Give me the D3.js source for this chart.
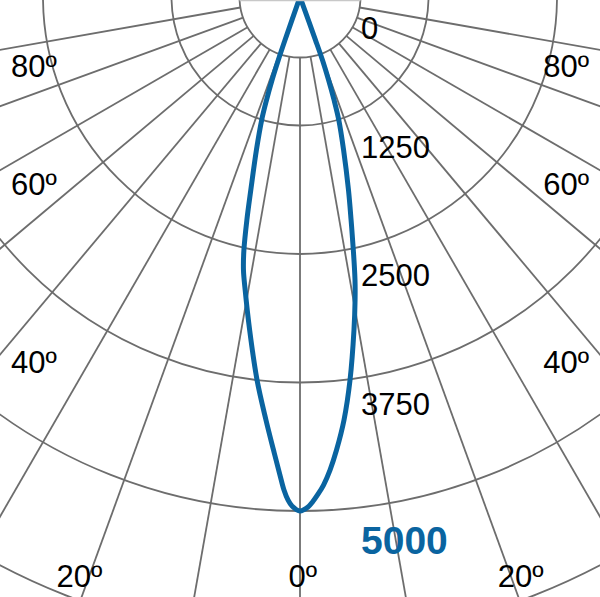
<!DOCTYPE html>
<html>
<head>
<meta charset="utf-8">
<script src="https://cdn.jsdelivr.net/npm/d3@7"></script>
<style>
  html, body { margin: 0; padding: 0; background: #fff; }
  svg { display: block; }
</style>
</head>
<body>
<svg id="chart" width="600" height="597"></svg>
<script>
// ---- data ----
const ringValues = [1250, 2500, 3750, 5000, 6250, 7500];
const valueLabels = ["0", "1250", "2500", "3750", "5000"];
const valueLabelValues = [0, 1250, 2500, 3750, 5000];
const gridAngles = [-90, -80, -70, -60, -50, -40, -30, -20, -10, 0, 10, 20, 30, 40, 50, 60, 70, 80, 90];
const angleLabels = ["80º", "60º", "40º", "20º", "0º", "20º", "40º", "60º", "80º"];
const angleLabelAngles = [-80, -60, -40, -20, 0, 20, 40, 60, 80];
// intensity curve (cd) — negative angle = left half, positive = right half
const curveAngles = [-19.5, -19.2, -19.0, -18.6, -18.0, -17.3, -15.9, -14.3, -13.4, -12.5, -11.7, -10.6, -8.6, -6.4, -4.6, -3.35, -2.4, -1.86, -1.37, -0.9, 0,
                     0.9, 1.42, 2.01, 2.76, 3.63, 4.61, 5.94, 7.44, 9.21, 10.3, 11.0, 11.9, 12.9, 14.1, 15.9, 17.5, 18.3, 19.0, 19.6, 19.8, 20.0];
const curveValues = [0, 443, 648, 852, 1054, 1253, 1547, 1937, 2230, 2521, 2712, 2900, 3276, 3749, 4128, 4414, 4654, 4798, 4894, 4952, 5000,
                     4962, 4914, 4847, 4753, 4611, 4421, 4137, 3758, 3281, 2996, 2804, 2516, 2226, 1936, 1547, 1255, 1055, 854, 651, 445, 0];

// ---- layout ----
const W = 600, H = 597;
const cx = 300, cy = -3;
const innerR = 60.5;
const gridColor = "#6d6d6d";
const blue = "#0a64a0";
const font = "'Liberation Sans', Arial, Helvetica, sans-serif";

const r = d3.scaleLinear().domain([0, 5000]).range([0, 514]);
const toRad = a => Math.PI - a * Math.PI / 180; // 0° points down

const svg = d3.select("#chart");
const g = svg.append("g").attr("transform", `translate(${cx},${cy})`);

// rings
g.selectAll("circle.ring").data(ringValues).join("circle")
  .attr("class", "ring")
  .attr("r", d => r(d))
  .attr("fill", "none")
  .attr("stroke", gridColor)
  .attr("stroke-width", 1.8);

// radial lines
const farR = 900;
g.selectAll("line.spoke").data(gridAngles).join("line")
  .attr("class", "spoke")
  .attr("x1", d => innerR * Math.sin(toRad(d)))
  .attr("y1", d => -innerR * Math.cos(toRad(d)))
  .attr("x2", d => farR * Math.sin(toRad(d)))
  .attr("y2", d => -farR * Math.cos(toRad(d)))
  .attr("stroke", gridColor)
  .attr("stroke-width", 1.8);

// inner semicircle
const semi = d3.arc().innerRadius(0).outerRadius(innerR)
  .startAngle(Math.PI / 2).endAngle(3 * Math.PI / 2);
g.append("path").attr("d", semi()).attr("fill", "#fff").attr("stroke", "none");
const semiEdge = d3.arc().innerRadius(innerR).outerRadius(innerR)
  .startAngle(Math.PI / 2).endAngle(3 * Math.PI / 2);
g.append("path").attr("d", semiEdge()).attr("fill", "none").attr("stroke", gridColor).attr("stroke-width", 1.8);
svg.append("line")
  .attr("x1", cx - innerR).attr("x2", cx + innerR)
  .attr("y1", 0.6).attr("y2", 0.6)
  .attr("stroke", "#c8c8c8").attr("stroke-width", 1.2);

// intensity curve
const pts = curveAngles.map((a, i) => ({ a, v: curveValues[i] }));
const line = d3.lineRadial()
  .angle(d => toRad(d.a))
  .radius(d => r(d.v))
  .curve(d3.curveCatmullRom.alpha(0.5));
g.append("path")
  .attr("d", line(pts))
  .attr("fill", "none")
  .attr("stroke", blue)
  .attr("stroke-width", 5)
  .attr("stroke-linejoin", "round")
  .attr("stroke-linecap", "round");

// value labels
svg.selectAll("text.val").data(valueLabelValues).join("text")
  .attr("class", "val")
  .attr("x", 361)
  .attr("y", (d, i) => Math.max(cy + r(d), cy + 10) + (i === 4 ? 43 : 32))
  .attr("font-family", font)
  .attr("font-size", (d, i) => i === 4 ? 39 : 31)
  .attr("font-weight", (d, i) => i === 4 ? "bold" : "normal")
  .attr("fill", (d, i) => i === 4 ? blue : "#000")
  .text((d, i) => valueLabels[i]);

// angle labels (placed along the frame)
const angleLayout = {
  "-80": { x: 11, y: 77, anchor: "start" },
  "-60": { x: 11, y: 195, anchor: "start" },
  "-40": { x: 11, y: 373, anchor: "start" },
  "-20": { x: 56.5, y: 587, anchor: "start" },
  "0":   { x: 288.5, y: 587, anchor: "start" },
  "20":  { x: 543.5, y: 587, anchor: "end" },
  "40":  { x: 589, y: 373, anchor: "end" },
  "60":  { x: 589, y: 195, anchor: "end" },
  "80":  { x: 589, y: 77, anchor: "end" }
};
svg.selectAll("text.ang").data(angleLabelAngles).join("text")
  .attr("class", "ang")
  .attr("x", d => angleLayout[d].x)
  .attr("y", d => angleLayout[d].y)
  .attr("text-anchor", d => angleLayout[d].anchor)
  .attr("font-family", font)
  .attr("font-size", 31)
  .attr("fill", "#000")
  .text((d, i) => angleLabels[i]);
</script>
</body>
</html>
